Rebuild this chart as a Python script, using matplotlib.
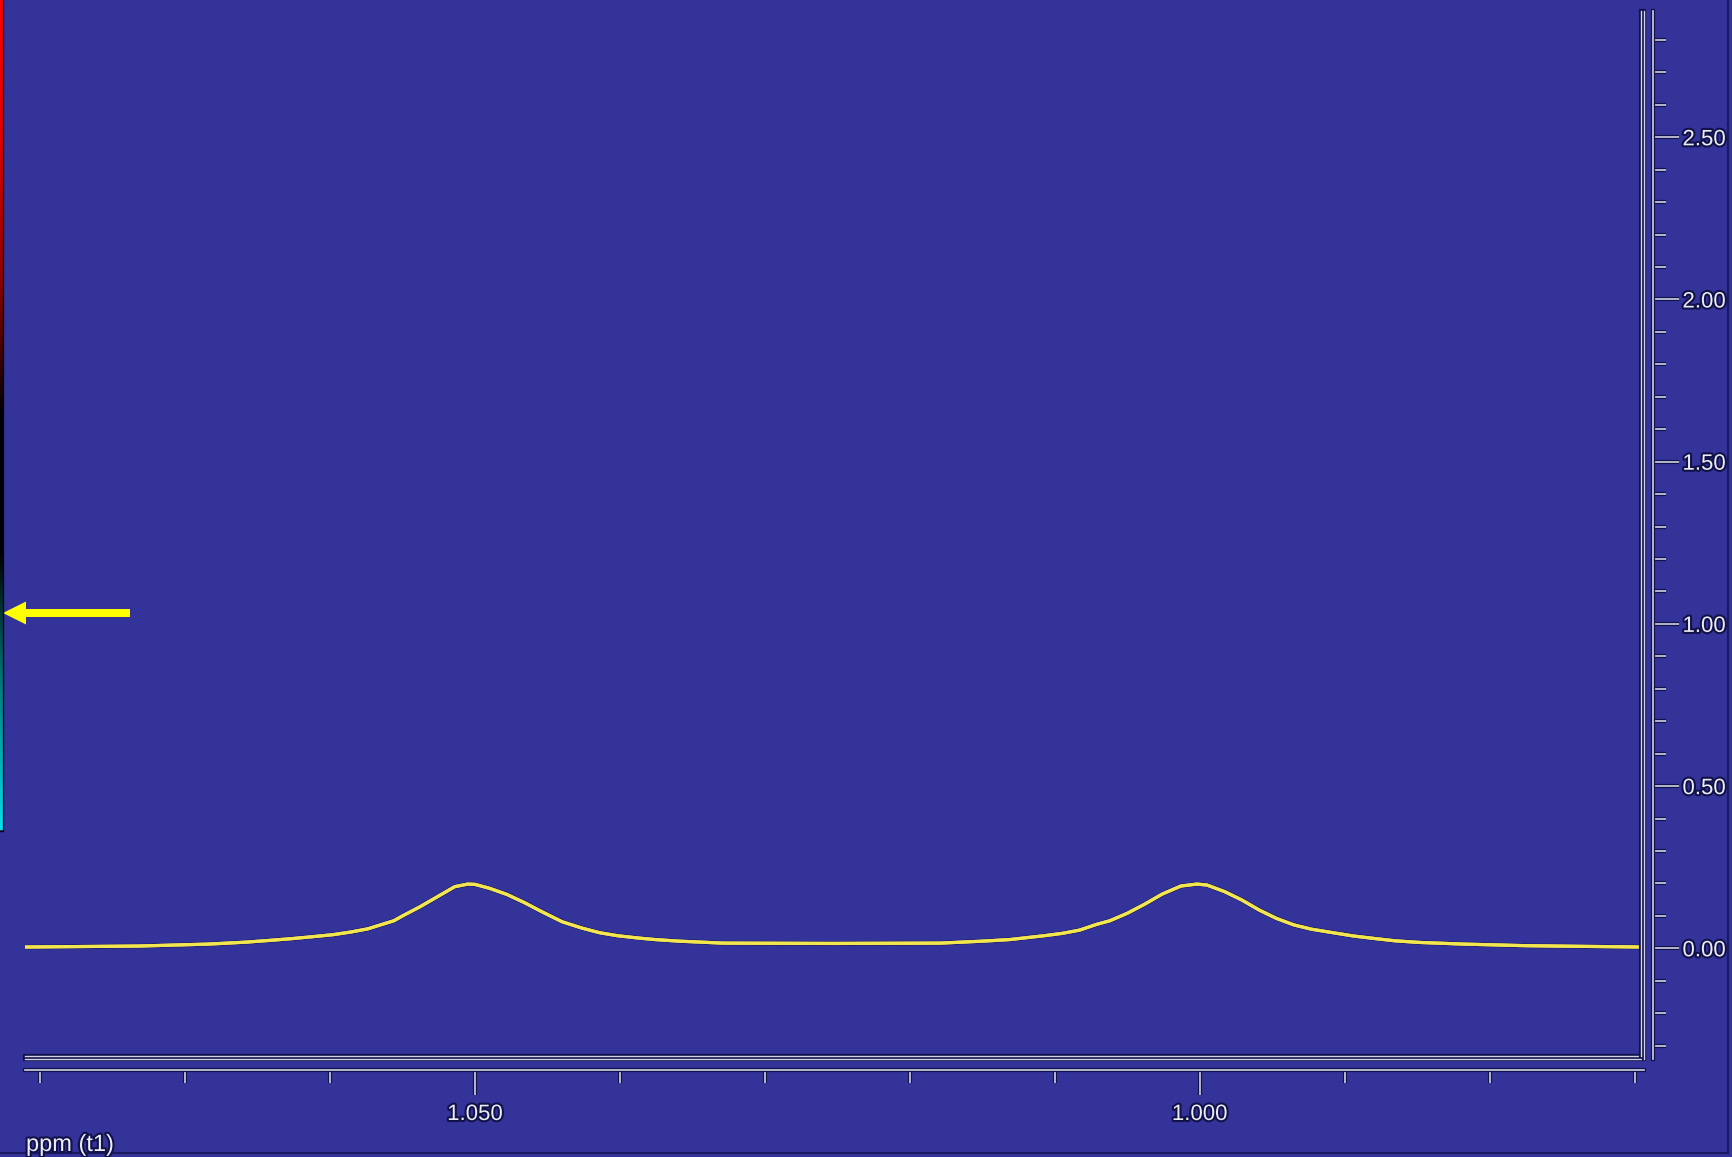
import numpy as np
import matplotlib
matplotlib.use("Agg")
import matplotlib.pyplot as plt
import matplotlib.patheffects as pe
from matplotlib.colors import LinearSegmentedColormap
from matplotlib.lines import Line2D
from matplotlib.patches import Polygon
from matplotlib.ticker import FixedLocator, FormatStrFormatter

# 1H spectrum trace, doublet near 1.05 / 1.00 ppm
ppm = [1.0810, 1.0732, 1.0684, 1.0658, 1.0640, 1.0626, 1.0614, 1.0598, 1.0586, 1.0574,
       1.0556, 1.0550, 1.0538, 1.0526, 1.0514, 1.0505, 1.0500, 1.0490, 1.0478, 1.0466,
       1.0454, 1.0440, 1.0426, 1.0414, 1.0402, 1.0388, 1.0376, 1.0359, 1.0329, 1.0253,
       1.0179, 1.0150, 1.0131, 1.0119, 1.0107, 1.0095, 1.0083, 1.0071, 1.0062, 1.0050,
       1.0038, 1.0026, 1.0013, 1.0002, 0.9995, 0.9983, 0.9971, 0.9959, 0.9947, 0.9935,
       0.9923, 0.9908, 0.9894, 0.9879, 0.9865, 0.9848, 0.9818, 0.9774, 0.9696]
intensity = [0.004, 0.007, 0.013, 0.019, 0.025, 0.030, 0.035, 0.042, 0.050, 0.060,
             0.085, 0.100, 0.128, 0.159, 0.190, 0.198, 0.197, 0.185, 0.166, 0.141,
             0.113, 0.082, 0.062, 0.048, 0.039, 0.032, 0.027, 0.022, 0.016, 0.015,
             0.016, 0.022, 0.027, 0.033, 0.039, 0.046, 0.056, 0.074, 0.085, 0.108,
             0.136, 0.167, 0.192, 0.198, 0.195, 0.175, 0.149, 0.118, 0.092, 0.072,
             0.059, 0.048, 0.038, 0.030, 0.023, 0.018, 0.013, 0.008, 0.004]

x_major = [1.050, 1.000]
x_minor = [1.080, 1.070, 1.060, 1.040, 1.030, 1.020, 1.010, 0.990, 0.980, 0.970]
y_major = [0.0, 0.5, 1.0, 1.5, 2.0, 2.5]
y_minor = [-0.3, -0.2, -0.1, 0.1, 0.2, 0.3, 0.4, 0.6, 0.7, 0.8, 0.9, 1.1, 1.2, 1.3, 1.4,
           1.6, 1.7, 1.8, 1.9, 2.1, 2.2, 2.3, 2.4, 2.6, 2.7, 2.8]

W, H = 1733, 1157
BG = "#333399"
LIGHT = "#d2d2e4"
DARK = "#12124a"
TRACE = "#f4e64e"
halo = [pe.withStroke(linewidth=3, foreground=DARK)]


def fx(px):
    return px / W


def fy(py):
    return 1 - py / H


plt.rcParams["font.family"] = ["Liberation Sans", "DejaVu Sans"]
fig = plt.figure(figsize=(W / 100, H / 100), dpi=100, facecolor=BG)

ax = fig.add_axes([fx(25), fy(1059), fx(1644) - fx(25), fy(11) - fy(1059)])
ax.set_facecolor(BG)
ax.set_xlim(1.08105, 0.96935)
ax.set_ylim(-0.3412, 2.8893)

ax.plot(ppm, intensity, color=TRACE, lw=2.3, solid_joinstyle="round",
        path_effects=[pe.withStroke(linewidth=3.4, foreground="#20206a"), pe.Normal()])

# frame: double line on right and bottom edges
for off in (0, 3):
    dx = off / (1644 - 25)
    dy = off / (1059 - 11)
    ax.add_line(Line2D([0, 1 - dx], [dy, dy], transform=ax.transAxes, color=LIGHT,
                       lw=1.0, clip_on=False, path_effects=halo))
    ax.add_line(Line2D([1 - dx, 1 - dx], [dy, 1], transform=ax.transAxes, color=LIGHT,
                       lw=1.0, clip_on=False, path_effects=halo))

for s in ("top", "left"):
    ax.spines[s].set_visible(False)
ax.spines["right"].set_position(("outward", 6.5))
ax.spines["bottom"].set_position(("outward", 7.9))
for s in ("right", "bottom"):
    ax.spines[s].set_color(LIGHT)
    ax.spines[s].set_linewidth(1.2)
    ax.spines[s].set_path_effects(halo)

ax.yaxis.tick_right()
ax.yaxis.set_major_locator(FixedLocator(y_major))
ax.yaxis.set_minor_locator(FixedLocator(y_minor))
ax.yaxis.set_major_formatter(FormatStrFormatter("%.2f"))
ax.xaxis.set_major_locator(FixedLocator(x_major))
ax.xaxis.set_minor_locator(FixedLocator(x_minor))
ax.xaxis.set_major_formatter(FormatStrFormatter("%.3f"))

ax.tick_params(axis="y", which="major", direction="out", length=18.7, width=1.2,
               color=LIGHT, pad=2.5, labelsize=16, labelcolor="#ececf4")
ax.tick_params(axis="y", which="minor", direction="out", length=9.4, width=1.2, color=LIGHT)
ax.tick_params(axis="x", which="major", direction="out", length=18, width=1.2,
               color=LIGHT, pad=6.5, labelsize=16, labelcolor="#ececf4")
ax.tick_params(axis="x", which="minor", direction="out", length=9.4, width=1.2, color=LIGHT)

for t in ax.get_xticklabels() + ax.get_yticklabels():
    t.set_path_effects(halo)
for tl in (ax.xaxis.get_ticklines() + ax.xaxis.get_ticklines(minor=True)
           + ax.yaxis.get_ticklines() + ax.yaxis.get_ticklines(minor=True)):
    tl.set_path_effects(halo)

fig.text(fx(26), fy(1145), "ppm (t1)", fontsize=17, color="#ececf4",
         ha="left", va="center", path_effects=halo)

# colour strip on the left edge
strip = fig.add_axes([0, fy(830), fx(3), fy(0) - fy(830)])
cmap = LinearSegmentedColormap.from_list("phase", ["#ff0000", "#e00000", "#900000",
                                                   "#000000", "#000000", "#008080",
                                                   "#00e0f0"])
strip.imshow(np.linspace(0, 1, 256).reshape(-1, 1), cmap=cmap, aspect="auto")
strip.set_axis_off()
fig.add_artist(Line2D([fx(2.5), fx(2.5)], [fy(0), fy(831)], color="black", lw=0.9))
fig.add_artist(Line2D([0, fx(3)], [fy(831), fy(831)], color="black", lw=0.9))

# cursor arrow
arrow_px = [(3, 613), (26, 601.5), (26, 609), (130, 609), (130, 617), (26, 617), (26, 624.5)]
fig.add_artist(Polygon([(x / 100, (H - y) / 100) for x, y in arrow_px], closed=True,
                       facecolor="#ffff00", edgecolor="none",
                       transform=fig.dpi_scale_trans))

# window border on right and bottom
fig.add_artist(Line2D([fx(1728), fx(1728)], [fy(1153), 1], color="#1a1a5e", lw=1.5))
fig.add_artist(Line2D([0, fx(1728)], [fy(1153), fy(1153)], color="#1a1a5e", lw=1.5))

fig.savefig("out.png", dpi=100, facecolor=BG)
